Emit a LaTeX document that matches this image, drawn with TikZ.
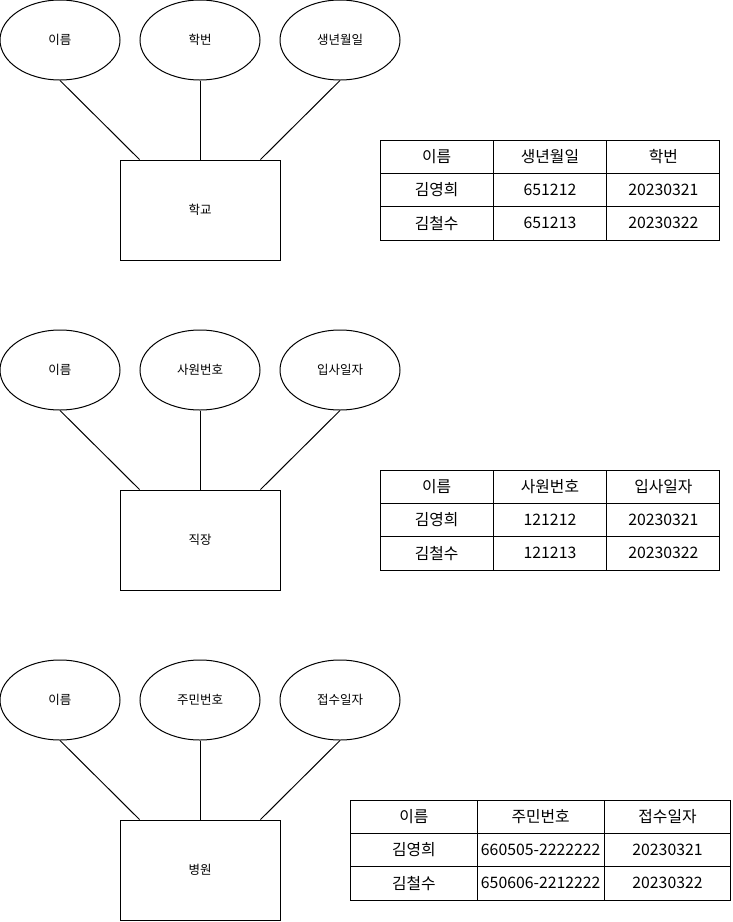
\documentclass[tikz,border=0pt]{standalone}
\usepackage{fontspec}
\setmainfont{Noto Sans CJK KR}
\usetikzlibrary{shapes.geometric}

\tikzset{
  attr/.style={draw, ellipse, line width=1pt, minimum width=120pt, minimum height=80pt,
    inner sep=0pt, font=\fontsize{12.5}{14}\selectfont},
  entity/.style={draw, rectangle, line width=1pt, minimum width=160pt, minimum height=100pt,
    inner sep=0pt, font=\fontsize{12.5}{14}\selectfont},
  cell/.style={draw, rectangle, line width=1pt, minimum height=33.33pt, inner sep=0pt,
    font=\fontsize{15.8}{18}\selectfont},
  link/.style={line width=1pt}
}

% one entity with its three attributes; #1 top edge, #2 name suffix,
% #3 entity label, #4--#6 attribute labels
\newcommand\ergroup[6]{%
  \node[attr] (a1#2) at (60,#1+40) {#4};
  \node[attr] (a2#2) at (200,#1+40) {#5};
  \node[attr] (a3#2) at (340,#1+40) {#6};
  \node[entity] (e#2) at (200,#1+210) {#3};
  \draw[link] (a1#2.south) -- ([xshift=20pt]e#2.north west);
  \draw[link] (a2#2.south) -- (e#2.north);
  \draw[link] (a3#2.south) -- ([xshift=-20pt]e#2.north east);
}

% one table row of three cells; #1 left edge, #2 cell width, #3 row centre,
% #4 name prefix, #5--#7 cell texts
\newcommand\tabrow[7]{%
  \node[cell, minimum width=#2pt] (#4a) at (#1+0.5*#2,#3) {#5};
  \node[cell, minimum width=#2pt] (#4b) at (#1+1.5*#2,#3) {#6};
  \node[cell, minimum width=#2pt] (#4c) at (#1+2.5*#2,#3) {#7};
}

\begin{document}
\begin{tikzpicture}[x=1pt, y=-1pt]
  \useasboundingbox (0,0) rectangle (732,922);

  % school
  \ergroup{0}{s}{학교}{이름}{학번}{생년월일}
  \tabrow{380}{113.33}{156.67}{sh}{이름}{생년월일}{학번}
  \tabrow{380}{113.33}{190}{sr}{김영희}{651212}{20230321}
  \tabrow{380}{113.33}{223.33}{st}{김철수}{651213}{20230322}

  % workplace
  \ergroup{330}{w}{직장}{이름}{사원번호}{입사일자}
  \tabrow{380}{113.33}{486.67}{wh}{이름}{사원번호}{입사일자}
  \tabrow{380}{113.33}{520}{wr}{김영희}{121212}{20230321}
  \tabrow{380}{113.33}{553.33}{wt}{김철수}{121213}{20230322}

  % hospital
  \ergroup{660}{h}{병원}{이름}{주민번호}{접수일자}
  \tabrow{350.5}{126.8}{816.67}{hh}{이름}{주민번호}{접수일자}
  \tabrow{350.5}{126.8}{850}{hr}{김영희}{660505-2222222}{20230321}
  \tabrow{350.5}{126.8}{883.33}{ht}{김철수}{650606-2212222}{20230322}
\end{tikzpicture}
\end{document}
